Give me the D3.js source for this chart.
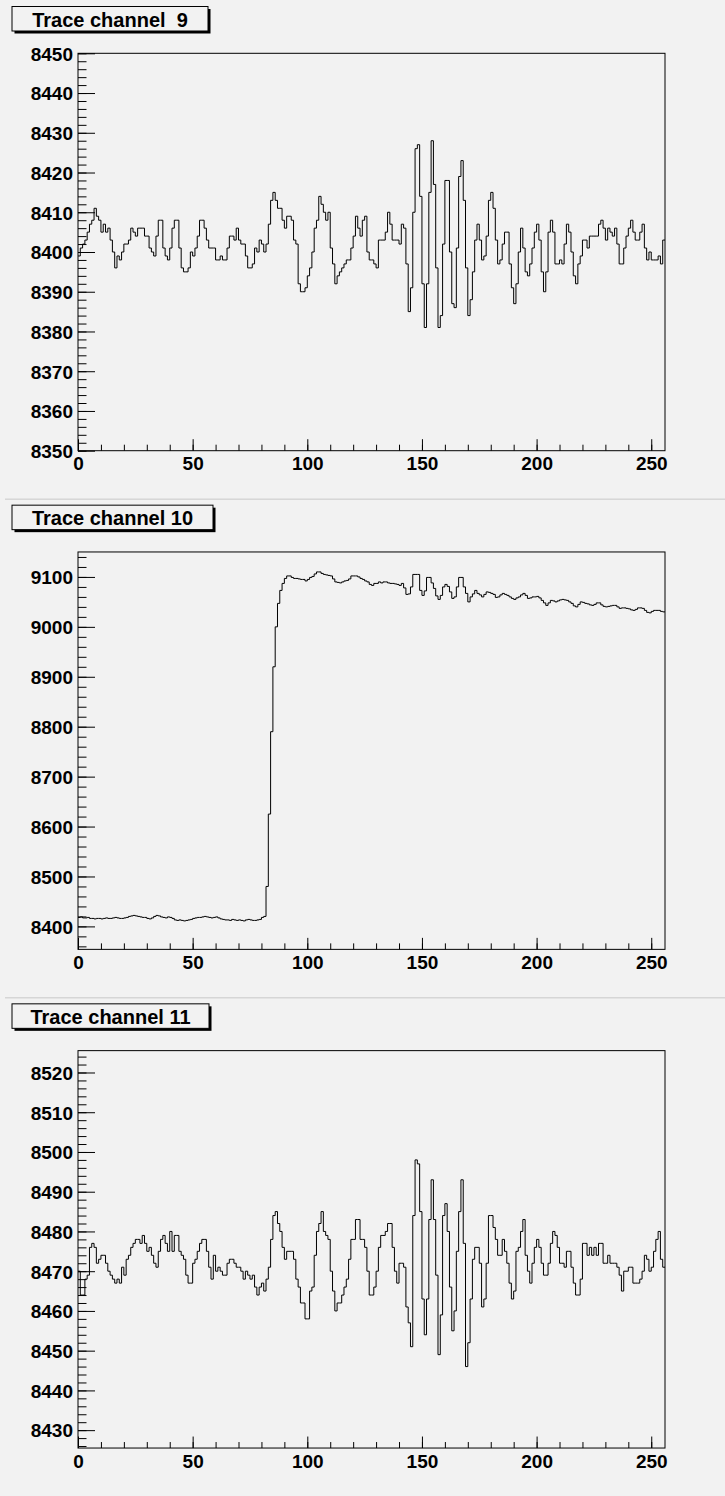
<!DOCTYPE html>
<html><head><meta charset="utf-8">
<script src="https://cdn.jsdelivr.net/npm/d3@7"></script>
<style>
html,body{margin:0;padding:0;background:#f2f2f2;}
svg{display:block;}
text{font-family:"Liberation Sans",Arial,Helvetica,sans-serif;font-weight:bold;fill:#000;}
</style></head><body>
<svg id="canvas" width="725" height="1496"></svg>
<script>
// ADC samples per bin (256 bins) for each trace channel
const channel9 = [
8399,8401,8402,8403,8405,8407,8408,8411,8409,8408,8405,8407,8405,8406,8403,8400,8396,8399,8398,8400,
8402,8402,8403,8406,8405,8404,8406,8406,8406,8404,8404,8401,8400,8399,8404,8408,8408,8401,8399,8398,
8401,8406,8408,8408,8401,8396,8395,8395,8396,8400,8399,8401,8404,8408,8408,8406,8403,8401,8401,8401,
8398,8398,8399,8398,8398,8401,8404,8404,8403,8406,8403,8402,8402,8399,8396,8396,8397,8401,8400,8403,
8402,8400,8402,8407,8413,8415,8413,8411,8411,8408,8406,8409,8409,8408,8403,8402,8392,8390,8390,8391,
8394,8396,8400,8406,8408,8414,8412,8410,8408,8410,8401,8397,8392,8394,8395,8396,8397,8398,8398,8401,
8404,8409,8406,8404,8408,8409,8400,8398,8398,8397,8396,8403,8403,8403,8405,8410,8407,8403,8403,8403,
8402,8407,8406,8397,8385,8391,8410,8426,8427,8414,8392,8381,8392,8415,8428,8417,8396,8381,8384,8402,
8418,8418,8400,8387,8386,8401,8419,8423,8413,8396,8384,8388,8395,8403,8407,8403,8398,8399,8404,8413,
8415,8411,8403,8397,8398,8402,8405,8405,8397,8391,8387,8392,8400,8406,8401,8395,8394,8397,8401,8405,
8407,8403,8395,8390,8395,8405,8408,8405,8397,8397,8398,8397,8402,8407,8405,8400,8394,8392,8397,8399,
8403,8403,8401,8404,8404,8404,8404,8407,8408,8406,8403,8406,8405,8404,8406,8402,8397,8397,8401,8404,
8406,8408,8405,8403,8403,8405,8407,8401,8398,8400,8398,8398,8398,8399,8397,8403
];
const channel10 = [
8418,8419,8417,8417,8418,8416,8416,8415,8416,8416,8415,8416,8417,8416,8416,8417,8418,8417,8416,8416,
8417,8418,8420,8421,8422,8421,8420,8419,8418,8418,8416,8415,8417,8420,8422,8421,8419,8418,8417,8419,
8418,8416,8413,8412,8413,8412,8411,8412,8413,8414,8416,8417,8418,8418,8419,8420,8419,8418,8417,8418,
8419,8417,8415,8414,8413,8413,8412,8414,8413,8412,8413,8412,8411,8413,8414,8413,8412,8412,8413,8414,
8418,8420,8480,8625,8790,8920,9000,9047,9073,9087,9097,9102,9102,9099,9097,9097,9096,9095,9095,9092,
9095,9099,9101,9106,9110,9110,9107,9105,9104,9103,9102,9096,9090,9089,9088,9090,9092,9093,9096,9102,
9102,9102,9100,9097,9095,9092,9090,9085,9083,9087,9087,9090,9088,9090,9090,9088,9087,9087,9086,9085,
9083,9087,9078,9065,9066,9080,9105,9105,9105,9073,9063,9072,9099,9099,9088,9077,9062,9055,9063,9080,
9085,9081,9070,9057,9060,9080,9099,9099,9080,9067,9050,9060,9066,9073,9067,9064,9060,9065,9070,9069,
9067,9065,9059,9060,9064,9067,9065,9063,9060,9057,9055,9058,9060,9064,9067,9063,9057,9058,9060,9060,
9061,9058,9053,9048,9043,9048,9053,9052,9050,9052,9054,9055,9054,9053,9050,9047,9042,9040,9045,9050,
9049,9047,9046,9044,9043,9045,9048,9048,9044,9041,9040,9041,9042,9043,9043,9040,9037,9038,9038,9037,
9036,9034,9033,9035,9038,9038,9037,9033,9029,9028,9031,9033,9033,9033,9031,9030
];
const channel11 = [
8470,8464,8464,8468,8469,8476,8477,8476,8472,8473,8474,8474,8472,8470,8469,8468,8467,8468,8467,8471,
8469,8473,8474,8476,8477,8478,8478,8477,8479,8477,8475,8476,8474,8472,8471,8475,8478,8479,8477,8475,
8480,8475,8479,8479,8475,8474,8473,8469,8467,8467,8472,8473,8475,8477,8478,8478,8475,8471,8468,8474,
8470,8471,8470,8469,8469,8472,8473,8473,8472,8471,8471,8470,8468,8470,8469,8468,8469,8466,8464,8466,
8467,8465,8468,8471,8478,8484,8485,8482,8480,8476,8473,8475,8475,8475,8473,8468,8466,8462,8462,8458,
8458,8465,8466,8474,8480,8482,8485,8480,8479,8478,8470,8465,8460,8462,8462,8464,8466,8468,8473,8478,
8478,8483,8483,8478,8478,8476,8470,8464,8464,8466,8470,8476,8479,8479,8480,8482,8482,8476,8470,8467,
8472,8472,8471,8461,8457,8451,8484,8498,8497,8485,8463,8454,8463,8483,8493,8483,8469,8449,8459,8484,
8487,8480,8466,8455,8460,8475,8485,8493,8477,8446,8452,8463,8473,8476,8476,8472,8461,8463,8472,8484,
8484,8481,8478,8474,8474,8478,8475,8472,8467,8463,8465,8475,8476,8480,8483,8474,8470,8467,8472,8476,
8478,8476,8472,8469,8469,8472,8477,8480,8479,8476,8472,8472,8471,8475,8475,8471,8467,8464,8464,8468,
8477,8477,8474,8476,8474,8476,8474,8477,8477,8472,8472,8474,8472,8472,8472,8471,8469,8465,8470,8470,
8471,8471,8467,8467,8467,8468,8470,8474,8473,8470,8471,8475,8478,8480,8473,8471
];

const titles = ["Trace channel  9", "Trace channel 10", "Trace channel 11"];
const series = [channel9, channel10, channel11];
const yRanges = [[8350, 8450], [8354, 9150], [8425.5, 8525.5]];
const yMajorStep = [10, 100, 10];
const yMinorStep = [2, 20, 2];
const xMajorTicks = [0, 50, 100, 150, 200, 250];
const nBins = 256;

const svg = d3.select("#canvas");
const W = 725, H = 1496;
const padH = H / 3;
const boxWidths = [196, 201, 197];

function ticksBetween(lo, hi, step) {
  const out = [];
  for (let v = Math.ceil(lo / step - 1e-9) * step; v <= hi + 1e-9; v += step) out.push(+v.toFixed(6));
  return out;
}

series.forEach((vals, k) => {
  const top = k * padH;
  const g = svg.append("g").attr("transform", `translate(0,${top})`);

  // pad separator
  if (k > 0) {
    g.append("line").attr("x1", 5).attr("x2", W).attr("y1", 0.5).attr("y2", 0.5)
      .attr("stroke", "#c8c8c8").attr("stroke-width", 1);
  }

  const fx0 = 78, fx1 = 665, fy0 = 53.3, fy1 = 450.7;
  const x = d3.scaleLinear().domain([0, nBins]).range([fx0, fx1]);
  const y = d3.scaleLinear().domain(yRanges[k]).range([fy1, fy0]);

  // minor ticks
  const yMinor = ticksBetween(yRanges[k][0], yRanges[k][1], yMinorStep[k]);
  g.append("g").attr("transform", `translate(${fx0},0)`)
    .call(d3.axisLeft(y).tickValues(yMinor).tickSize(-8.5).tickSizeOuter(0).tickFormat(""))
    .call(a => a.select(".domain").remove())
    .selectAll("line").attr("stroke", "#000");
  const xMinor = ticksBetween(0, nBins, 10);
  g.append("g").attr("transform", `translate(0,${fy1})`)
    .call(d3.axisBottom(x).tickValues(xMinor).tickSize(-6).tickSizeOuter(0).tickFormat(""))
    .call(a => a.select(".domain").remove())
    .selectAll("line").attr("stroke", "#000");

  // major ticks with labels
  const yMajor = ticksBetween(yRanges[k][0], yRanges[k][1], yMajorStep[k]);
  const ya = g.append("g").attr("transform", `translate(${fx0},0)`)
    .call(d3.axisLeft(y).tickValues(yMajor).tickSize(-17).tickSizeOuter(0).tickPadding(5).tickFormat(d3.format("d")));
  ya.select(".domain").remove();
  ya.selectAll("line").attr("stroke", "#000");
  ya.selectAll("text").attr("font-size", 19).attr("font-family", null).attr("dy", "0.36em");

  const xa = g.append("g").attr("transform", `translate(0,${fy1})`)
    .call(d3.axisBottom(x).tickValues(xMajorTicks).tickSize(-11.5).tickSizeOuter(0).tickPadding(6).tickFormat(d3.format("d")));
  xa.select(".domain").remove();
  xa.selectAll("line").attr("stroke", "#000");
  xa.selectAll("text").attr("font-size", 19).attr("font-family", null);

  // frame
  g.append("rect").attr("x", fx0).attr("y", fy0).attr("width", fx1 - fx0).attr("height", fy1 - fy0)
    .attr("fill", "none").attr("stroke", "#000").attr("stroke-width", 1);

  // histogram drawn as steps
  const pts = vals.map((v, i) => [i, v]);
  pts.push([nBins, vals[vals.length - 1]]);
  const line = d3.line().x(d => x(d[0])).y(d => y(d[1])).curve(d3.curveStepAfter);
  g.append("path").attr("d", line(pts)).attr("fill", "none")
    .attr("stroke", "#000").attr("stroke-width", 1);

  // title box with shadow
  const bx = 12, by = 6.5, bw = boxWidths[k], bh = 24.5;
  g.append("rect").attr("x", bx + 2.5).attr("y", by + 2.5).attr("width", bw).attr("height", bh).attr("fill", "#000");
  g.append("rect").attr("x", bx).attr("y", by).attr("width", bw).attr("height", bh)
    .attr("fill", "#f2f2f2").attr("stroke", "#000").attr("stroke-width", 1);
  g.append("text").attr("x", bx + bw / 2).attr("y", by + 20).attr("text-anchor", "middle")
    .attr("font-size", 20).style("white-space", "pre").text(titles[k]);
});
</script>
</body></html>
